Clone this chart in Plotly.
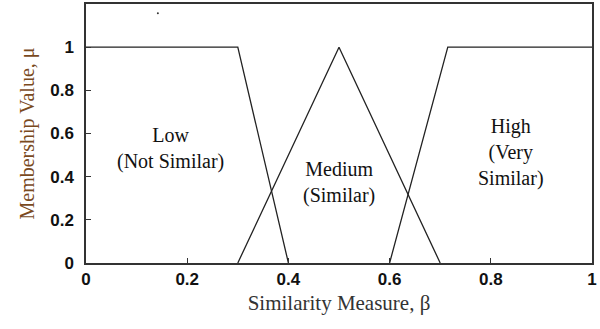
import plotly.graph_objects as go

# membership functions (breakpoints)
low_x = [0, 0.3, 0.4]
low_y = [1, 1, 0]
med_x = [0.3, 0.5, 0.7]
med_y = [0, 1, 0]
high_x = [0.6, 0.715, 1]
high_y = [0, 1, 1]

# stray dot seen in the original figure
dot_x = [0.142]
dot_y = [1.157]

labels = ["Low<br>(Not Similar)", "Medium<br>(Similar)", "High<br>(Very<br>Similar)"]
label_x = [0.166, 0.5, 0.84]
label_y = [0.53, 0.375, 0.51]

tick_vals_x = [0, 0.2, 0.4, 0.6, 0.8, 1]
tick_text_x = ["0", "0.2", "0.4", "0.6", "0.8", "1"]
tick_vals_y = [0, 0.2, 0.4, 0.6, 0.8, 1]
tick_text_y = ["0", "0.2", "0.4", "0.6", "0.8", "1"]

fig = go.Figure()
for xs, ys in [(low_x, low_y), (med_x, med_y), (high_x, high_y)]:
    fig.add_trace(go.Scatter(x=xs, y=ys, mode="lines",
                             line=dict(color="#222", width=1.3), showlegend=False))
fig.add_trace(go.Scatter(x=dot_x, y=dot_y, mode="markers",
                         marker=dict(color="#333", size=2), showlegend=False))

for t, x, y in zip(labels, label_x, label_y):
    fig.add_annotation(x=x, y=y, text=t, showarrow=False,
                       font=dict(family="Liberation Serif", size=20, color="#111"))

fig.update_xaxes(range=[0, 1], tickvals=tick_vals_x, ticktext=tick_text_x,
                 ticks="inside", ticklen=5, tickcolor="#333",
                 showline=True, linecolor="#333", linewidth=1.5, mirror=True,
                 showgrid=False, zeroline=False, automargin=False,
                 tickfont=dict(family="Liberation Sans", size=17, color="#111", weight="bold"),
                 title=dict(text="Similarity Measure, β", standoff=7,
                            font=dict(family="Liberation Serif", size=21, color="#333")))
fig.update_yaxes(range=[0, 1.2], tickvals=tick_vals_y, ticktext=tick_text_y,
                 ticks="inside", ticklen=5, tickcolor="#333", ticklabelstandoff=7,
                 showline=True, linecolor="#333", linewidth=1.5, mirror=True,
                 showgrid=False, zeroline=False, automargin=False,
                 tickfont=dict(family="Liberation Sans", size=17, color="#111", weight="bold"),
                 title=dict(text="Membership Value, μ", standoff=10,
                            font=dict(family="Liberation Serif", size=20, color="#7a4a1e")))

fig.update_layout(width=600, height=329, plot_bgcolor="white", paper_bgcolor="white",
                  margin=dict(l=86, r=8, t=4, b=66, autoexpand=False))
fig.write_html("out.html", config={"displayModeBar": False},
               post_script="document.body.style.margin='0';")
